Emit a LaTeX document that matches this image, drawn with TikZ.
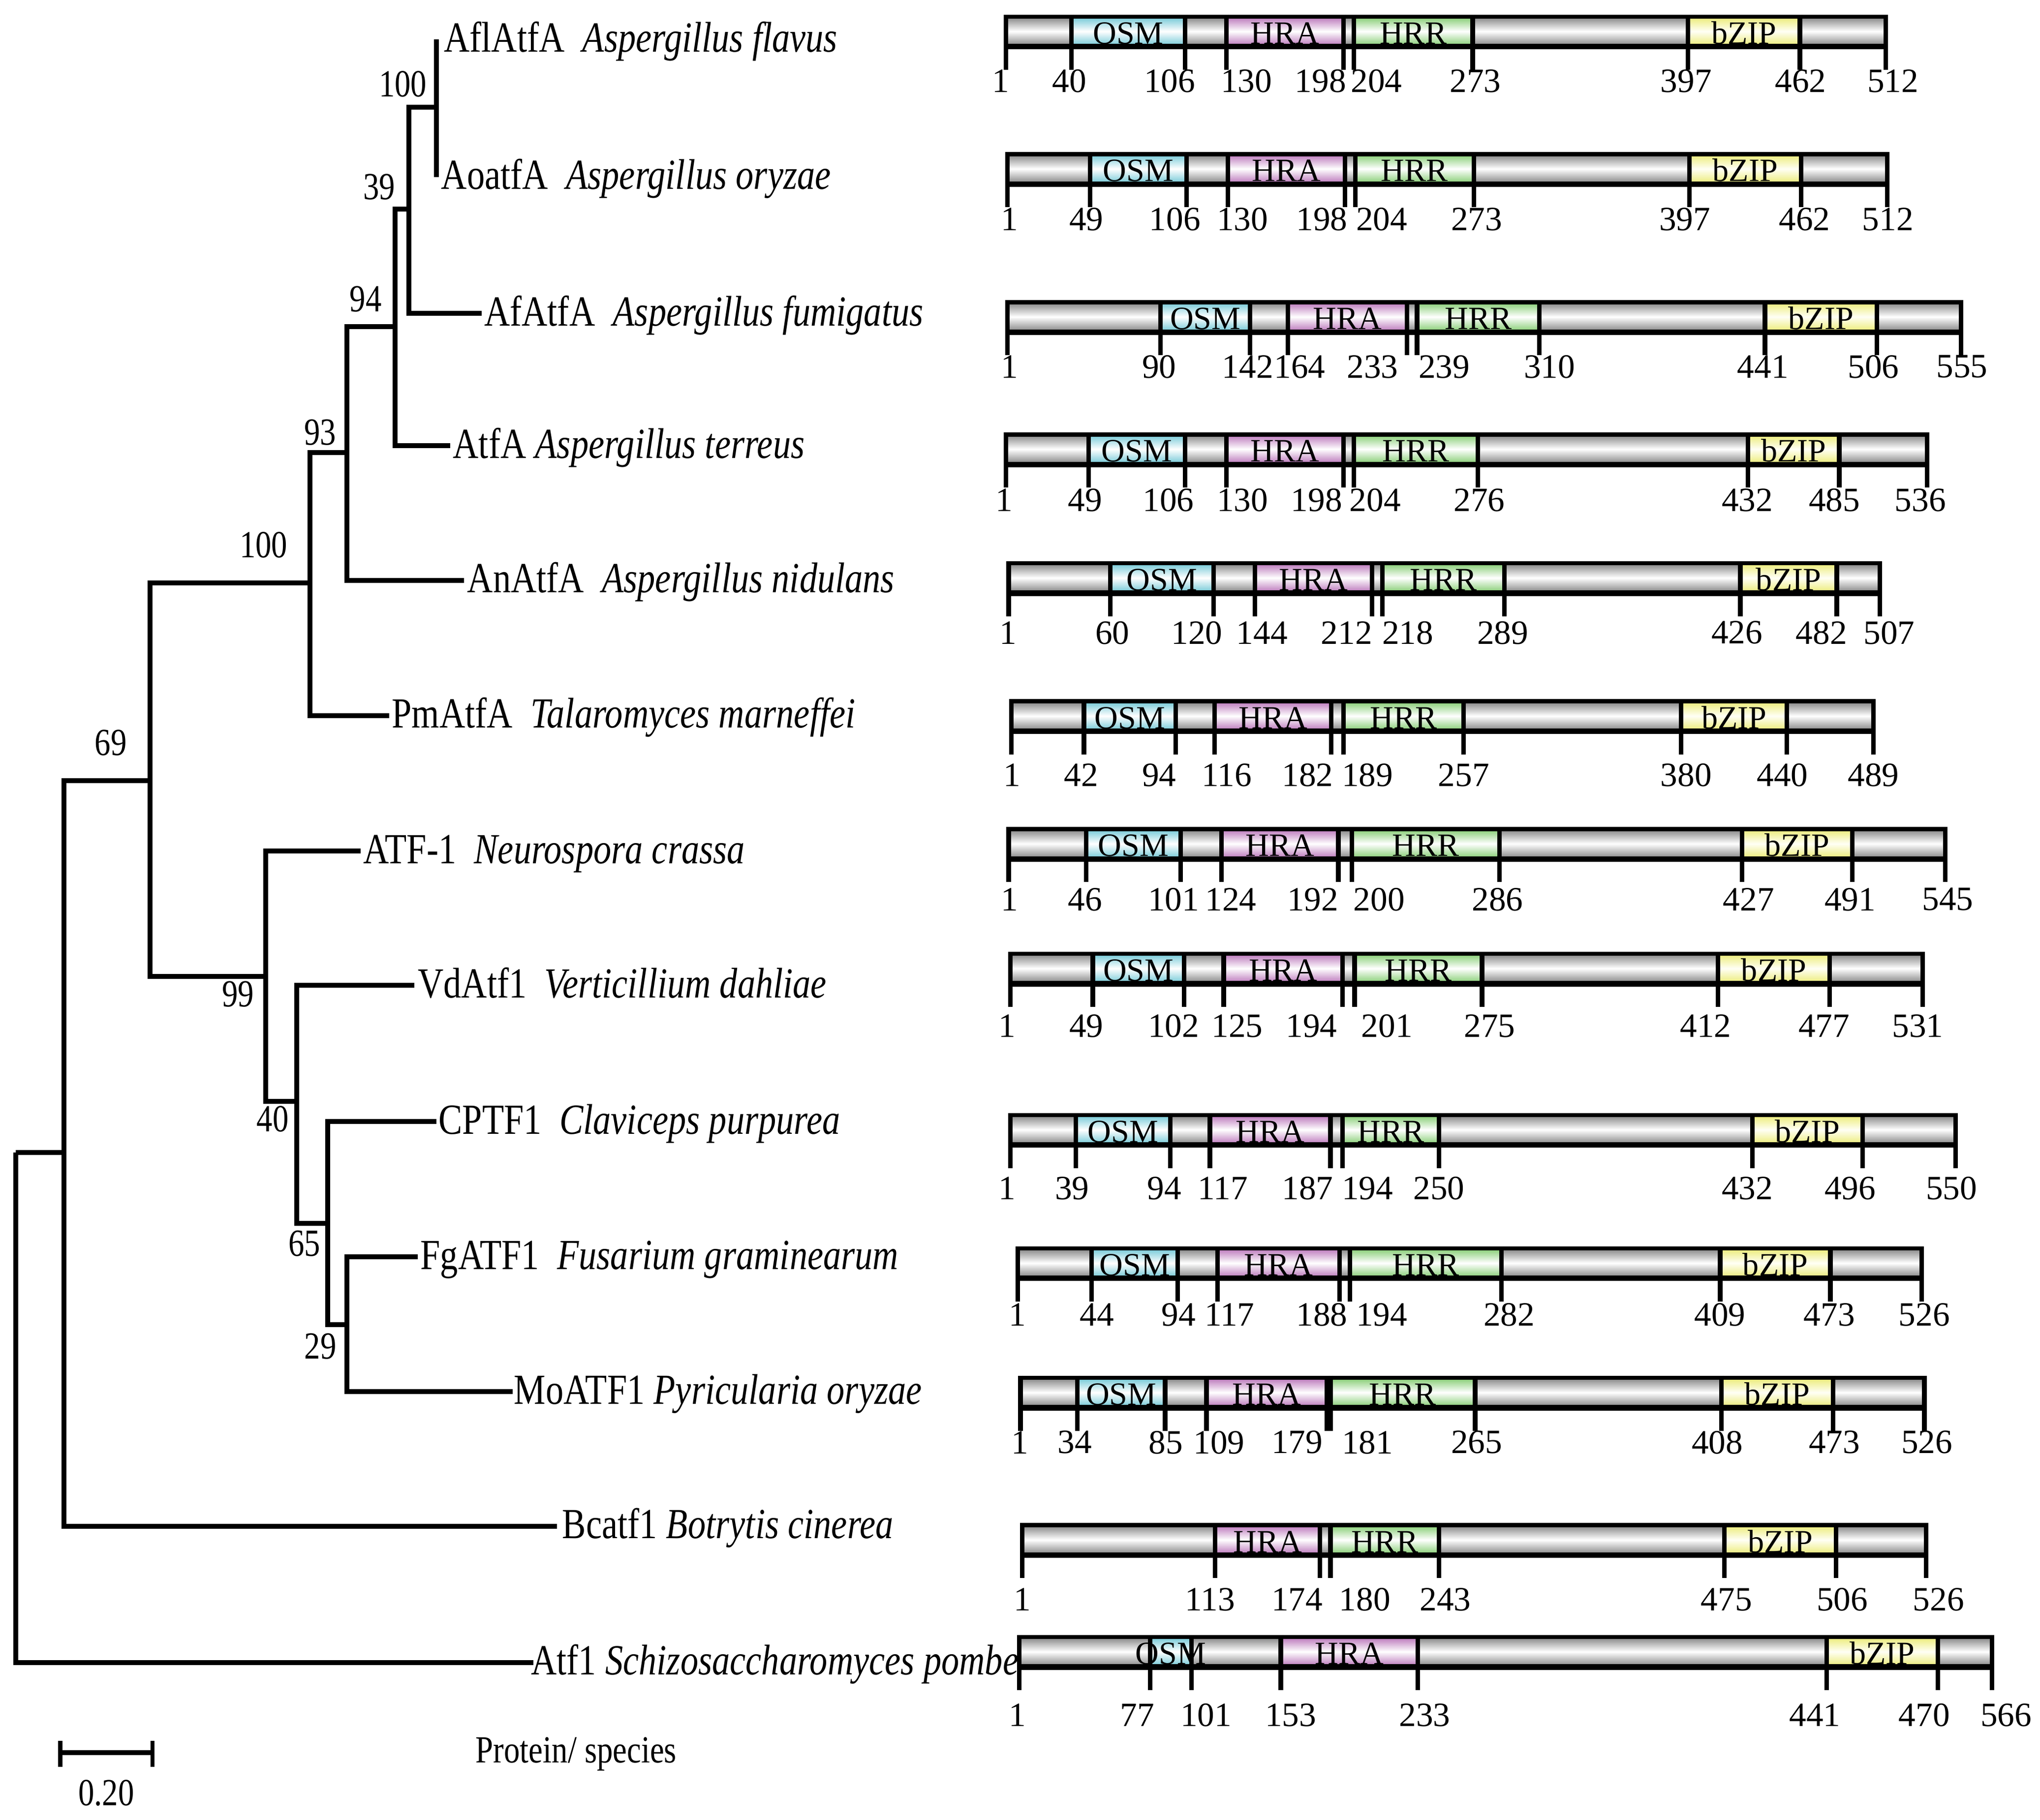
\documentclass[tikz,border=0pt]{standalone}
\usepackage{fontspec}
\setmainfont{Liberation Serif}
\newfontfamily\narrowserif{Liberation Serif}[FakeStretch=0.83]
\newcommand{\treefont}{\narrowserif\fontsize{33}{40}\selectfont}
\newcommand{\bootfont}{\narrowserif\fontsize{29.5}{35}\selectfont}
\newcommand{\posfont}{\rmfamily\fontsize{26.2}{31}\selectfont}
\newcommand{\domfont}{\rmfamily\fontsize{25}{30}\selectfont}

\definecolor{bodycol}{HTML}{969696}
\definecolor{osmcol}{HTML}{86D0DC}
\definecolor{hracol}{HTML}{C489C4}
\definecolor{hrrcol}{HTML}{96D486}
\definecolor{bzipcol}{HTML}{EEEE88}

\tikzset{
    branch/.style={line width=3.8pt, line join=miter},
    leaflabel/.style={anchor=base west, inner sep=0pt, font=\treefont},
    bootlabel/.style={inner sep=0pt, font=\bootfont},
    poslabel/.style={inner sep=0pt, font=\posfont},
    domlabel/.style={anchor=base, inner sep=0pt, font=\domfont},
    tickline/.style={line width=3.5pt},
    bodyshade/.style={top color=bodycol, bottom color=bodycol, middle color=white},
    osmshade/.style={top color=osmcol, bottom color=osmcol, middle color=white},
    hrashade/.style={top color=hracol, bottom color=hracol, middle color=white},
    hrrshade/.style={top color=hrrcol, bottom color=hrrcol, middle color=white},
    bzipshade/.style={top color=bzipcol, bottom color=bzipcol, middle color=yellow!4},
}

% bar: id, top, left, right
\newcommand{\protbar}[4]{%
    \fill[black] (#3-1.75,#2) rectangle (#4+1.75,#2+26.8);
    \shade[bodyshade] (#3,#2+3.5) rectangle (#4,#2+22.4);
}
% domain: id, top, from, to, shading, name
\newcommand{\protdom}[6]{%
    \shade[#5] (#3+1.75,#2+3.5) rectangle (#4-1.75,#2+22.4);
    \node[domlabel] (#1-#6) at ({(#3+#4)/2},#2+22.6) {#6};
}
% ticks: top, list of x
\newcommand{\protticks}[2]{%
    \foreach \tx in {#2} \draw[tickline] (\tx,#1) -- (\tx,#1+42.4);
}
% numbers: id, centre y, list of x/number
\newcommand{\protnums}[3]{%
    \foreach \lx/\lt in {#3} \node[poslabel] (#1-\lt) at (\lx,#2) {\lt};
}

\begin{document}
\begin{tikzpicture}[x=1pt, y=-1pt]
    \useasboundingbox (0,0) rectangle (1568,1399);

    % tree: inner nodes
    \coordinate (root) at (12,886);
    \coordinate (jfun) at (49,886);
    \coordinate (j69) at (115.4,600.1);
    \coordinate (j100b) at (238.2,448.3);
    \coordinate (j93) at (266.6,348);
    \coordinate (j94) at (303.7,251.2);
    \coordinate (j39) at (314.3,160.6);
    \coordinate (j100a) at (335.6,82.5);
    \coordinate (j99) at (204.2,750.8);
    \coordinate (j40) at (228.2,846.8);
    \coordinate (j65) at (252,940.5);
    \coordinate (j29) at (266.6,1018.6);

    % tree: leaf ends
    \coordinate (eAfl) at (335.6,30.4);
    \coordinate (eAo) at (335.6,136.1);
    \coordinate (eAf) at (370.1,240.9);
    \coordinate (eAt) at (346.2,342.7);
    \coordinate (eAn) at (356.8,446.2);
    \coordinate (ePm) at (299.2,550.1);
    \coordinate (eNc) at (277.2,654.3);
    \coordinate (eVd) at (318.3,757.6);
    \coordinate (eCp) at (335.6,862.4);
    \coordinate (eFg) at (320.9,966.3);
    \coordinate (eMo) at (393.9,1069.9);
    \coordinate (eBc) at (428,1173.4);
    \coordinate (eSp) at (410,1278.2);

    \begin{scope}[every edge/.style={draw, branch, to path={|- (\tikztotarget)}}]
        \path (root) edge (jfun);
        \path (root) edge (eSp);
        \path (jfun) edge (j69);
        \path (jfun) edge (eBc);
        \path (j69) edge (j100b);
        \path (j69) edge (j99);
        \path (j100b) edge (j93);
        \path (j100b) edge (ePm);
        \path (j93) edge (j94);
        \path (j93) edge (eAn);
        \path (j94) edge (j39);
        \path (j94) edge (eAt);
        \path (j39) edge (j100a);
        \path (j39) edge (eAf);
        \path (j99) edge (eNc);
        \path (j99) edge (j40);
        \path (j40) edge (eVd);
        \path (j40) edge (j65);
        \path (j65) edge (eCp);
        \path (j65) edge (j29);
        \path (j29) edge (eFg);
        \path (j29) edge (eMo);
        \path [line width=3pt] (j100a) edge (eAfl);
        \path [line width=3pt] (j100a) edge (eAo);
    \end{scope}

    % leaf labels
    \node[leaflabel] (tAfl) at (341,39.9) {AflAtfA~~\textit{Aspergillus flavus}};
    \node[leaflabel] (tAo) at (339,145.6) {AoatfA~~\textit{Aspergillus oryzae}};
    \node[leaflabel] (tAf) at (372,250.4) {AfAtfA~~\textit{Aspergillus fumigatus}};
    \node[leaflabel] (tAt) at (348,352.2) {AtfA \textit{Aspergillus terreus}};
    \node[leaflabel] (tAn) at (359,455.7) {AnAtfA~~\textit{Aspergillus nidulans}};
    \node[leaflabel] (tPm) at (301,559.6) {PmAtfA~~\textit{Talaromyces marneffei}};
    \node[leaflabel] (tNc) at (279,663.8) {ATF-1~~\textit{Neurospora crassa}};
    \node[leaflabel] (tVd) at (321,767.1) {VdAtf1~~\textit{Verticillium dahliae}};
    \node[leaflabel] (tCp) at (337,871.9) {CPTF1~~\textit{Claviceps purpurea}};
    \node[leaflabel] (tFg) at (323,975.8) {FgATF1~~\textit{Fusarium graminearum}};
    \node[leaflabel] (tMo) at (395,1079.4) {MoATF1 \textit{Pyricularia oryzae}};
    \node[leaflabel] (tBc) at (432,1182.9) {Bcatf1 \textit{Botrytis cinerea}};
    \node[leaflabel] (tSp) at (408,1287.7) {Atf1 \textit{Schizosaccharomyces pombe}};

    % bootstrap values
    \node[bootlabel] (b100a) at (309.6,64.7) {100};
    \node[bootlabel] (b39) at (291.5,143.7) {39};
    \node[bootlabel] (b94) at (281,229.8) {94};
    \node[bootlabel] (b93) at (246,332.4) {93};
    \node[bootlabel] (b100b) at (202.6,419.1) {100};
    \node[bootlabel] (b69) at (85.1,571) {69};
    \node[bootlabel] (b99) at (183,764.3) {99};
    \node[bootlabel] (b40) at (209.6,860.2) {40};
    \node[bootlabel] (b65) at (234,956.1) {65};
    \node[bootlabel] (b29) at (246.3,1035) {29};

    % scale bar
    \coordinate (sbL) at (46.4,1347.4);
    \coordinate (sbR) at (117.3,1347.4);
    \draw[branch] (sbL) -- (sbR);
    \draw[line width=3.2pt] (sbL) +(0,-8.9) -- +(0,11.2);
    \draw[line width=3.2pt] (sbR) +(0,-8.9) -- +(0,11.2);
    \node[bootlabel] (sbnum) at (81.7,1378.4) {0.20};
    \node[bootlabel, anchor=base west] (legend) at (365.5,1355.2) {Protein/ species};

    % domain bars
    \protbar{A}{11.2}{773.3}{1449.5}
    \protdom{A}{11.2}{823.6}{910.9}{osmshade}{OSM}
    \protdom{A}{11.2}{942.7}{1032.7}{hrashade}{HRA}
    \protdom{A}{11.2}{1040.6}{1131.9}{hrrshade}{HRR}
    \protdom{A}{11.2}{1297.4}{1383.4}{bzipshade}{bZIP}
    \protticks{11.2}{773.3,823.6,910.9,942.7,1032.7,1040.6,1131.9,1297.4,1383.4,1449.5}
    \protnums{A}{62.3}{769/1,822/40,899/106,958/130,1015/198,1058/204,1134/273,1296/397,1384/462,1455/512}

    \protbar{B}{116.9}{774.3}{1450.5}
    \protdom{B}{116.9}{837.8}{911.9}{osmshade}{OSM}
    \protdom{B}{116.9}{943.7}{1033.7}{hrashade}{HRA}
    \protdom{B}{116.9}{1041.6}{1132.9}{hrrshade}{HRR}
    \protdom{B}{116.9}{1298.4}{1384.4}{bzipshade}{bZIP}
    \protticks{116.9}{774.3,837.8,911.9,943.7,1033.7,1041.6,1132.9,1298.4,1384.4,1450.5}
    \protnums{B}{168.7}{776/1,835/49,903/106,955/130,1016/198,1062/204,1135/273,1295/397,1387/462,1451/512}

    \protbar{C}{230.7}{774.3}{1507.4}
    \protdom{C}{230.7}{892.1}{960.9}{osmshade}{OSM}
    \protdom{C}{230.7}{990}{1081.3}{hrashade}{HRA}
    \protdom{C}{230.7}{1089.2}{1183.2}{hrrshade}{HRR}
    \protdom{C}{230.7}{1356.6}{1442.6}{bzipshade}{bZIP}
    \protticks{230.7}{774.3,892.1,960.9,990,1081.3,1089.2,1183.2,1356.6,1442.6,1507.4}
    \protnums{C}{282}{776/1,891/90,959/142,999/164,1055/233,1110/239,1191/310,1355/441,1440/506,1508/555}

    \protbar{D}{332.4}{773.3}{1481.3}
    \protdom{D}{332.4}{836.8}{910.9}{osmshade}{OSM}
    \protdom{D}{332.4}{942.7}{1032.7}{hrashade}{HRA}
    \protdom{D}{332.4}{1040.6}{1135.9}{hrrshade}{HRR}
    \protdom{D}{332.4}{1343.6}{1413.7}{bzipshade}{bZIP}
    \protticks{332.4}{773.3,836.8,910.9,942.7,1032.7,1040.6,1135.9,1343.6,1413.7,1481.3}
    \protnums{D}{384.6}{772/1,834/49,898/106,955/130,1012/198,1057/204,1137/276,1343/432,1410/485,1476/536}

    \protbar{E}{431.4}{775.3}{1444.9}
    \protdom{E}{431.4}{853.4}{932.8}{osmshade}{OSM}
    \protdom{E}{431.4}{964.5}{1054.5}{hrashade}{HRA}
    \protdom{E}{431.4}{1062.5}{1156.4}{hrrshade}{HRR}
    \protdom{E}{431.4}{1337.7}{1411.8}{bzipshade}{bZIP}
    \protticks{431.4}{775.3,853.4,932.8,964.5,1054.5,1062.5,1156.4,1337.7,1411.8,1444.9}
    \protnums{E}{486.5}{775/1,855/60,920/120,970/144,1035/212,1082/218,1155/289,1335/426,1400/482,1452/507}

    \protbar{F}{537.6}{777.5}{1440}
    \protdom{F}{537.6}{833.2}{903.8}{osmshade}{OSM}
    \protdom{F}{537.6}{933.7}{1023.2}{hrashade}{HRA}
    \protdom{F}{537.6}{1032.7}{1125}{hrrshade}{HRR}
    \protdom{F}{537.6}{1292.1}{1373.5}{bzipshade}{bZIP}
    \protticks{537.6}{777.5,833.2,903.8,933.7,1023.2,1032.7,1125,1292.1,1373.5,1440}
    \protnums{F}{596}{778/1,831/42,891/94,943/116,1005/182,1051/189,1125/257,1296/380,1370/440,1440/489}

    \protbar{G}{635.8}{775.3}{1495.2}
    \protdom{G}{635.8}{834.8}{907.6}{osmshade}{OSM}
    \protdom{G}{635.8}{938.9}{1028.7}{hrashade}{HRA}
    \protdom{G}{635.8}{1039.2}{1152.4}{hrrshade}{HRR}
    \protdom{G}{635.8}{1339}{1423.7}{bzipshade}{bZIP}
    \protticks{635.8}{775.3,834.8,907.6,938.9,1028.7,1039.2,1152.4,1339,1423.7,1495.2}
    \protnums{G}{691.5}{776/1,834/46,902/101,946/124,1009/192,1060/200,1151/286,1344/427,1422/491,1497/545}

    \protbar{H}{731.7}{776.5}{1477.9}
    \protdom{H}{731.7}{840}{910.2}{osmshade}{OSM}
    \protdom{H}{731.7}{940.6}{1031.9}{hrashade}{HRA}
    \protdom{H}{731.7}{1041.2}{1139.1}{hrrshade}{HRR}
    \protdom{H}{731.7}{1320.4}{1406.4}{bzipshade}{bZIP}
    \protticks{731.7}{776.5,840,910.2,940.6,1031.9,1041.2,1139.1,1320.4,1406.4,1477.9}
    \protnums{H}{788.7}{774/1,835/49,902/102,951/125,1008/194,1066/201,1145/275,1311/412,1402/477,1474/531}

    \protbar{I}{855.7}{776.5}{1503}
    \protdom{I}{855.7}{826.8}{899.6}{osmshade}{OSM}
    \protdom{I}{855.7}{930}{1022.6}{hrashade}{HRA}
    \protdom{I}{855.7}{1031.9}{1106}{hrrshade}{HRR}
    \protdom{I}{855.7}{1346.8}{1431.5}{bzipshade}{bZIP}
    \protticks{855.7}{776.5,826.8,899.6,930,1022.6,1031.9,1106,1346.8,1431.5,1503}
    \protnums{I}{913.7}{774/1,824/39,895/94,940/117,1005/187,1051/194,1106/250,1343/432,1422/496,1500/550}

    \protbar{J}{958.2}{782.2}{1476.9}
    \protdom{J}{958.2}{839.1}{905.3}{osmshade}{OSM}
    \protdom{J}{958.2}{935.7}{1029.7}{hrashade}{HRA}
    \protdom{J}{958.2}{1037.6}{1154.1}{hrrshade}{HRR}
    \protdom{J}{958.2}{1322.2}{1406.9}{bzipshade}{bZIP}
    \protticks{958.2}{782.2,839.1,905.3,935.7,1029.7,1037.6,1154.1,1322.2,1406.9,1476.9}
    \protnums{J}{1010.9}{782/1,843/44,906/94,945/117,1016/188,1062/194,1160/282,1322/409,1406/473,1479/526}

    \protbar{K}{1057.7}{784.4}{1479.1}
    \protdom{K}{1057.7}{828.1}{895.6}{osmshade}{OSM}
    \protdom{K}{1057.7}{927.3}{1020}{hrashade}{HRA}
    \protdom{K}{1057.7}{1022.6}{1133.8}{hrrshade}{HRR}
    \protdom{K}{1057.7}{1323}{1409}{bzipshade}{bZIP}
    \protticks{1057.7}{784.4,828.1,895.6,927.3,1020,1022.6,1133.8,1323,1409,1479.1}
    \protnums{K}{1109}{784/1,826/34,896/85,937/109,997/179,1051/181,1135/265,1320/408,1410/473,1481/526}

    \protbar{L}{1171}{785.7}{1480.4}
    \protdom{L}{1171}{933.9}{1014.6}{hrashade}{HRA}
    \protdom{L}{1171}{1022.6}{1106}{hrrshade}{HRR}
    \protdom{L}{1171}{1325.5}{1411.3}{bzipshade}{bZIP}
    \protticks{1171}{785.7,933.9,1014.6,1022.6,1106,1325.5,1411.3,1480.4}
    \protnums{L}{1229.8}{786/1,930/113,997/174,1049/180,1111/243,1327/475,1416/506,1490/526}

    \protbar{M}{1257}{783.4}{1531}
    \protdom{M}{1257}{884}{915.7}{osmshade}{OSM}
    \protdom{M}{1257}{984.4}{1089.8}{hrashade}{HRA}
    \protdom{M}{1257}{1404}{1489.4}{bzipshade}{bZIP}
    \protticks{1257}{783.4,884,915.7,984.4,1089.8,1404,1489.4,1531}
    \protnums{M}{1318.7}{782/1,874/77,927/101,992/153,1095/233,1395/441,1479/470,1542/566}
\end{tikzpicture}
\end{document}
